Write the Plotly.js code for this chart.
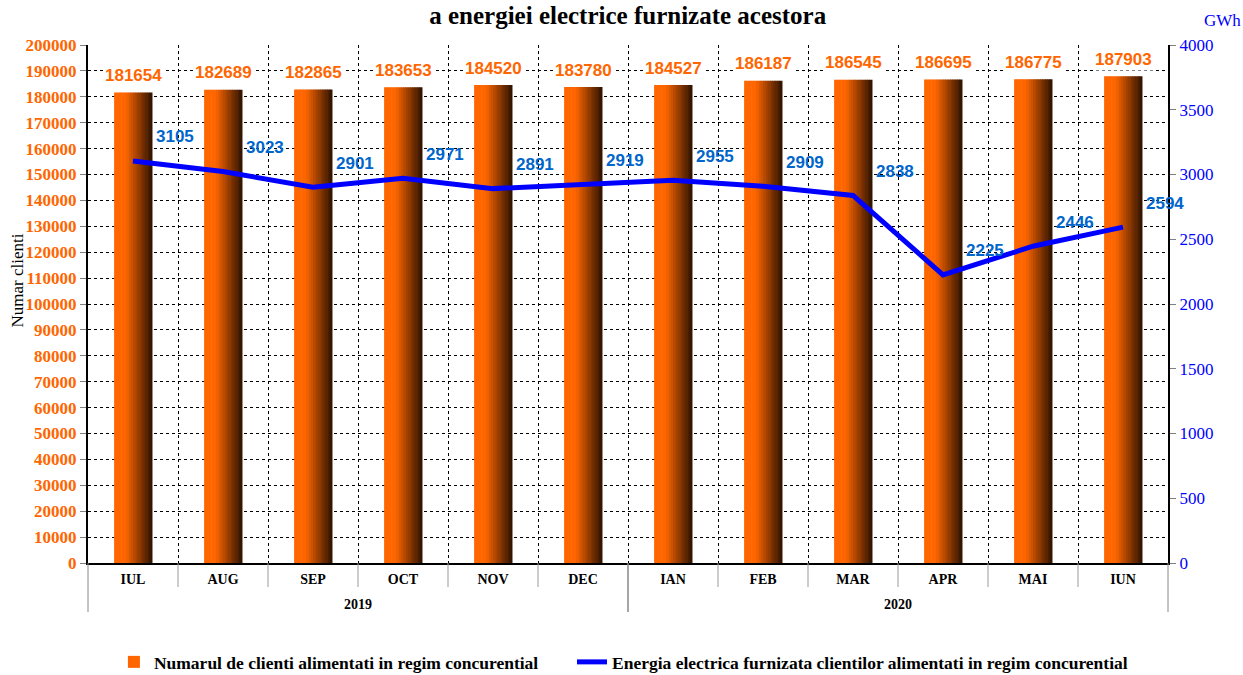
<!DOCTYPE html>
<html>
<head>
<meta charset="utf-8">
<script src="https://cdn.plot.ly/plotly-3.0.1.min.js"></script>
<style>html,body{margin:0;padding:0;background:#fff;}#chart{width:1243px;height:675px;}</style>
</head>
<body>
<div id="chart"></div>
<script>
// ---- data ----
var years = ["2019","2019","2019","2019","2019","2019","2020","2020","2020","2020","2020","2020"];
var months = ["IUL","AUG","SEP","OCT","NOV","DEC","IAN","FEB","MAR","APR","MAI","IUN"];
var clients = [181654,182689,182865,183653,184520,183780,184527,186187,186545,186695,186775,187903];
var energy = [3105,3023,2901,2971,2891,2919,2955,2909,2838,2225,2446,2594];
var barName = "Numarul de clienti alimentati in regim concurential";
var lineName = "Energia electrica furnizata clientilor alimentati in regim concurential";
var titleText = "a energiei electrice furnizate acestora";

// ---- styling ----
var ORANGE = [255,102,0];
var DARK = [46,18,0];
var serif = "Liberation Serif, Times New Roman, serif";
var sans = "Liberation Sans, Arial, sans-serif";
var n = months.length;
var PLOT_H = 518, PLOT_W = 1080;

function lerpColor(t){
  var s = t < 0.3 ? 0 : (t - 0.3) / 0.7;
  var c = ORANGE.map(function(v,i){return Math.round(v + (DARK[i]-v)*s);});
  return "rgb(" + c.join(",") + ")";
}

var traces = [];
var N = 16, total = 0.42, w = total / N;
for (var i = 0; i < N; i++) {
  traces.push({
    type: "bar", x: months, y: clients,
    width: w * 1.25, offset: -total/2 + i*w,
    marker: {color: lerpColor((i+0.5)/N), line: {width: 0}},
    name: barName, showlegend: i === 0, legendgroup: "bars", legend: "legend",
    hoverinfo: "skip", yaxis: "y"
  });
}
// energy line
traces.push({
  type: "scatter", mode: "lines", x: months, y: energy,
  line: {color: "#0000FF", width: 5},
  name: lineName, yaxis: "y2", hoverinfo: "skip", legend: "legend2"
});

var annotations = [];
// bar value labels
clients.forEach(function(v, k){
  annotations.push({
    x: months[k], y: v, xref: "x", yref: "y",
    text: String(v), showarrow: false, yanchor: "middle", yshift: 17,
    bgcolor: "#fff", borderpad: 1,
    font: {family: sans, size: 17, color: "#FF6600", weight: "bold"}
  });
});
// energy value labels
energy.forEach(function(v, k){
  annotations.push({
    x: months[k], y: v, xref: "x", yref: "y2",
    text: String(v), showarrow: false, yanchor: "middle",
    xshift: 42, yshift: 24,
    font: {family: sans, size: 17, color: "#0066CC", weight: "bold"}
  });
});
annotations.push({
  xref: "paper", yref: "paper", x: -0.065, y: 0.545, xanchor: "center", yanchor: "middle",
  text: "Numar clienti", textangle: -90, showarrow: false,
  font: {family: serif, size: 17, color: "#000"}
});
annotations.push({
  xref: "paper", yref: "paper", x: 1.05, y: 1.048,
  text: "GWh", showarrow: false, xanchor: "center", yanchor: "middle",
  font: {family: serif, size: 17, color: "#0000FF"}
});

// year group labels and separators
var shapes = [];
var groups = [];
years.forEach(function(y, k){
  if (!groups.length || groups[groups.length-1].name !== y) groups.push({name: y, start: k, end: k});
  else groups[groups.length-1].end = k;
});
groups.forEach(function(g){
  annotations.push({
    xref: "paper", yref: "paper", x: ((g.start + g.end + 1) / 2) / n, y: -41/PLOT_H,
    text: "<b>" + g.name + "</b>", showarrow: false, xanchor: "center", yanchor: "middle",
    font: {family: serif, size: 14, color: "#000"}
  });
  [g.start, g.end + 1].forEach(function(b){
    shapes.push({type: "line", xref: "paper", yref: "paper",
      x0: b/n, x1: b/n, y0: 0, y1: -49/PLOT_H, line: {color: "#888", width: 1}});
  });
});
for (var j = 1; j < n; j++) {
  if (years[j] !== years[j-1]) continue;
  shapes.push({type: "line", xref: "paper", yref: "paper",
    x0: j/n, x1: j/n, y0: 0, y1: -24/PLOT_H, line: {color: "#999", width: 1}});
}

var legendFont = {family: serif, size: 17.5, color: "#000", weight: "bold"};

var layout = {
  width: 1243, height: 675,
  margin: {l: 88, r: 75, t: 45, b: 112, autoexpand: false},
  paper_bgcolor: "#fff", plot_bgcolor: "#fff",
  barmode: "overlay",
  title: {
    text: "<b>" + titleText + "</b>",
    x: 0.505, xanchor: "center", y: 0.977, yanchor: "middle",
    font: {family: serif, size: 25, color: "#000"}
  },
  xaxis: {
    type: "category", range: [-0.5, n - 0.5],
    showline: true, linecolor: "#000", linewidth: 2,
    showgrid: true, gridcolor: "#000", griddash: "dot", gridwidth: 1,
    tickson: "boundaries", ticks: "",
    tickfont: {family: serif, size: 14, color: "#000", weight: "bold"},
    ticklabelstandoff: 2,
    zeroline: false, automargin: false
  },
  yaxis: {
    range: [0, 200000], dtick: 10000, tick0: 0, tickformat: "d",
    showline: true, linecolor: "#000", linewidth: 2,
    showgrid: true, gridcolor: "#000", griddash: "dot", gridwidth: 1,
    ticks: "outside", ticklen: 6, tickcolor: "#808080",
    tickfont: {family: serif, size: 17, color: "#FF6600", weight: "bold"},
    zeroline: false, automargin: false
  },
  yaxis2: {
    overlaying: "y", side: "right",
    range: [0, 4000], dtick: 500, tick0: 0, tickformat: "d",
    showline: true, linecolor: "#000", linewidth: 2,
    showgrid: false, zeroline: false,
    ticks: "outside", ticklen: 6, tickcolor: "#808080",
    tickfont: {family: serif, size: 17, color: "#0000FF"},
    automargin: false
  },
  legend: {
    orientation: "h", x: 0.024, xanchor: "left", y: -99/PLOT_H, yanchor: "middle",
    font: legendFont, itemwidth: 30, bgcolor: "rgba(0,0,0,0)"
  },
  legend2: {
    orientation: "h", x: (572 - 88)/PLOT_W, xanchor: "left", y: -99/PLOT_H, yanchor: "middle",
    font: legendFont, itemwidth: 30, bgcolor: "rgba(0,0,0,0)"
  },
  annotations: annotations,
  shapes: shapes,
  showlegend: true
};

Plotly.newPlot("chart", traces, layout, {displayModeBar: false, staticPlot: true});
</script>
</body>
</html>
